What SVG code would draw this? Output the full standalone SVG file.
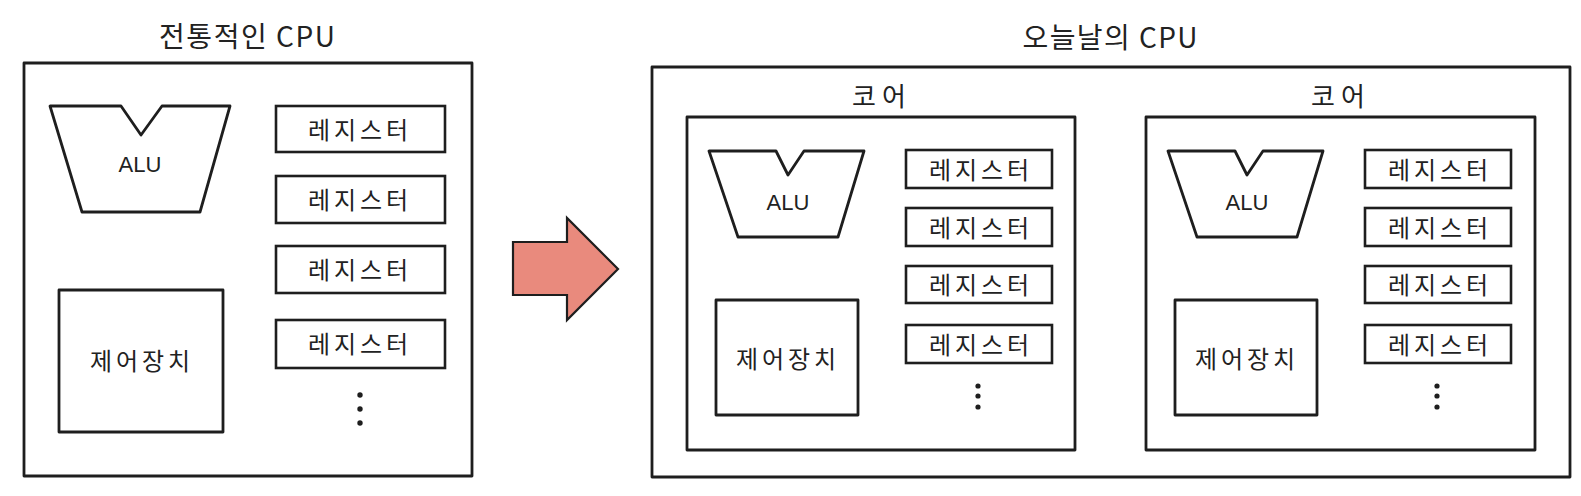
<svg xmlns="http://www.w3.org/2000/svg" width="1581" height="496" viewBox="0 0 1581 496">
<style>
  .box{fill:#fff;stroke:#1e1e1e;stroke-width:2.8;stroke-linejoin:round}
  .reg{fill:#fff;stroke:#1e1e1e;stroke-width:2.6}
  .t{font-family:"Noto Sans CJK KR","Noto Sans",sans-serif;fill:#222;text-anchor:middle}
  .title{font-size:28px}
  .lbl{font-size:26px}
  .rt{font-size:24px;dominant-baseline:central}
  .alu{font-family:"Liberation Sans","Noto Sans",sans-serif;font-size:22px;fill:#222;text-anchor:middle;dominant-baseline:central}
  .dot{fill:#1e1e1e}
</style>
<rect width="1581" height="496" fill="#fff"/>

<g id="traditional-cpu">
  <text class="t title" x="247" y="47" textLength="176" lengthAdjust="spacing">전통적인 CPU</text>
  <rect class="box" x="24" y="63" width="448" height="413"/>
  <g id="t-alu">
    <polygon class="box" points="50,106 121,106 141,135 162,106 230,106 200,212 82,212"/>
    <text class="alu" x="140" y="164">ALU</text>
  </g>
  <g id="t-ctrl">
    <rect class="box" x="59" y="290" width="164" height="142"/>
    <text class="t rt" x="140" y="359" textLength="100" lengthAdjust="spacing">제어장치</text>
  </g>
  <g id="t-regs">
    <rect class="reg" x="276" y="106" width="169" height="46"/>
    <text class="t rt" x="358" y="128" textLength="100" lengthAdjust="spacing">레지스터</text>
    <rect class="reg" x="276" y="176" width="169" height="47"/>
    <text class="t rt" x="358" y="198" textLength="100" lengthAdjust="spacing">레지스터</text>
    <rect class="reg" x="276" y="246" width="169" height="47"/>
    <text class="t rt" x="358" y="268" textLength="100" lengthAdjust="spacing">레지스터</text>
    <rect class="reg" x="276" y="320" width="169" height="48"/>
    <text class="t rt" x="358" y="342" textLength="100" lengthAdjust="spacing">레지스터</text>
    <circle class="dot" cx="360" cy="395" r="2.7"/>
    <circle class="dot" cx="360" cy="409" r="2.7"/>
    <circle class="dot" cx="360" cy="423" r="2.7"/>
  </g>
</g>

<g id="connectors">
  <polygon points="513,242 567,242 567,218 618,269 567,320 567,295 513,295" fill="#e98a7d" stroke="#1e1e1e" stroke-width="2.2" stroke-linejoin="miter"/>
</g>

<g id="modern-cpu">
  <text class="t title" x="1110" y="48" textLength="175" lengthAdjust="spacing">오늘날의 CPU</text>
  <rect class="box" x="652" y="67" width="918" height="410"/>

  <g id="core1">
    <text class="t lbl" x="879" y="106" textLength="54" lengthAdjust="spacing">코어</text>
    <rect class="box" x="687" y="117" width="388" height="333"/>
    <polygon class="box" points="709,151 776,151 788,175 804,151 864,151 838,237 738,237"/>
    <text class="alu" x="788" y="202">ALU</text>
    <rect class="box" x="716" y="300" width="142" height="115"/>
    <text class="t rt" x="786" y="357" textLength="100" lengthAdjust="spacing">제어장치</text>
    <rect class="reg" x="906" y="150" width="146" height="38"/>
    <text class="t rt" x="979" y="168" textLength="100" lengthAdjust="spacing">레지스터</text>
    <rect class="reg" x="906" y="208" width="146" height="38"/>
    <text class="t rt" x="979" y="226" textLength="100" lengthAdjust="spacing">레지스터</text>
    <rect class="reg" x="906" y="266" width="146" height="37"/>
    <text class="t rt" x="979" y="283" textLength="100" lengthAdjust="spacing">레지스터</text>
    <rect class="reg" x="906" y="325" width="146" height="38"/>
    <text class="t rt" x="979" y="343" textLength="100" lengthAdjust="spacing">레지스터</text>
    <circle class="dot" cx="978" cy="386" r="2.6"/>
    <circle class="dot" cx="978" cy="396" r="2.6"/>
    <circle class="dot" cx="978" cy="407" r="2.6"/>
  </g>

  <g id="core2">
    <text class="t lbl" x="1338" y="106" textLength="54" lengthAdjust="spacing">코어</text>
    <rect class="box" x="1146" y="117" width="389" height="333"/>
    <polygon class="box" points="1168,151 1235,151 1247,175 1263,151 1323,151 1297,237 1197,237"/>
    <text class="alu" x="1247" y="202">ALU</text>
    <rect class="box" x="1175" y="300" width="142" height="115"/>
    <text class="t rt" x="1245" y="357" textLength="100" lengthAdjust="spacing">제어장치</text>
    <rect class="reg" x="1365" y="150" width="146" height="38"/>
    <text class="t rt" x="1438" y="168" textLength="100" lengthAdjust="spacing">레지스터</text>
    <rect class="reg" x="1365" y="208" width="146" height="38"/>
    <text class="t rt" x="1438" y="226" textLength="100" lengthAdjust="spacing">레지스터</text>
    <rect class="reg" x="1365" y="266" width="146" height="37"/>
    <text class="t rt" x="1438" y="283" textLength="100" lengthAdjust="spacing">레지스터</text>
    <rect class="reg" x="1365" y="325" width="146" height="38"/>
    <text class="t rt" x="1438" y="343" textLength="100" lengthAdjust="spacing">레지스터</text>
    <circle class="dot" cx="1437" cy="386" r="2.6"/>
    <circle class="dot" cx="1437" cy="396" r="2.6"/>
    <circle class="dot" cx="1437" cy="407" r="2.6"/>
  </g>
</g>
</svg>
